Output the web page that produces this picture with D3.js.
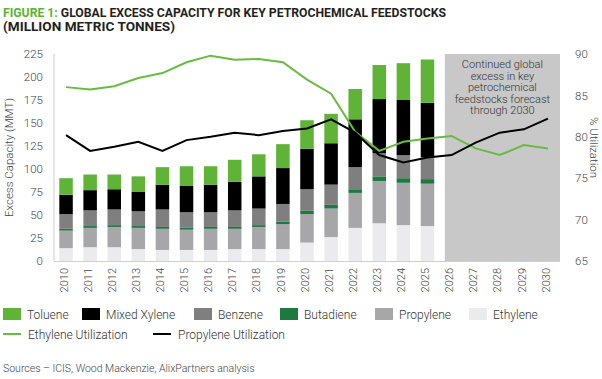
<!DOCTYPE html>
<html><head><meta charset="utf-8">
<script src="https://cdn.jsdelivr.net/npm/d3@7"></script>
<style>
body{margin:0;background:#fff;}
text{font-family:Roboto,"Noto Sans",sans-serif;}
</style></head>
<body><svg id="c" width="602" height="379"></svg>
<script>
const years = d3.range(2010, 2031).map(String);
const barYears = d3.range(2010, 2026).map(String);
const ethylene  = [14,15,15,13,12,12,12,13,13,13,20,26,36,41,39,38];
const propylene = [19,21,22,23,23,22,23,22,24,27,31,31,38,46,46,46];
const butadiene = [2,2,2,2,2,2,2,2,2,3,4,4,4,5,5,5];
const benzene   = [16,17,17,16,19,17,16,18,18,19,23,22,24,25,25,24];
const xylene    = [21,22,22,21,27,29,30,31,35,39,44,45,52,59,60,59];
const toluene   = [18,17,16,17,19,21,20,24,24,26,31,32,33,37,40,47];
const ethUtil = [86.0,85.7,86.1,87.1,87.7,89.0,89.8,89.3,89.4,89.0,86.9,85.2,80.6,78.3,79.4,79.8,80.1,78.6,77.8,79.0,78.6];
const propUtil = [80.2,78.3,78.8,79.4,78.3,79.6,80.0,80.5,80.2,80.7,81.0,82.1,80.5,77.8,76.9,77.5,77.8,79.3,80.5,80.9,82.2];
const leftTicks = [0,25,50,75,100,125,150,175,200,225];
const rightTicks = [65,70,75,80,85,90];
const seriesNames = ["Ethylene","Propylene","Butadiene","Benzene","Mixed Xylene","Toluene"];
const colors = {"Toluene":"#5fb336","Mixed Xylene":"#000000","Benzene":"#7f7f7f","Butadiene":"#1d7a3e","Propylene":"#a7a7aa","Ethylene":"#ebebed"};
const legendOrder = ["Toluene","Mixed Xylene","Benzene","Butadiene","Propylene","Ethylene"];
const noteLines = ["Continued global","excess in key","petrochemical","feedstocks forecast","through 2030"];

const table = barYears.map((y,i)=>({year:y,"Ethylene":ethylene[i],"Propylene":propylene[i],"Butadiene":butadiene[i],"Benzene":benzene[i],"Mixed Xylene":xylene[i],"Toluene":toluene[i]}));

const svg = d3.select("#c");
const L=54,R=560,T=54,B=261;
const x = d3.scaleBand().domain(years).range([L,R]).paddingInner(0.44).paddingOuter(0.22);
const yL = d3.scaleLinear().domain([0,225]).range([B,T]);
const yR = d3.scaleLinear().domain([65,90]).range([B,T]);
const cx = d=>x(d)+x.bandwidth()/2;

// title
const title = svg.append("text").attr("x",3).attr("y",17).attr("font-size",13).attr("font-weight",700).attr("fill","#231f20");
title.append("tspan").attr("fill","#5cb431").text("FIGURE 1: ");
title.append("tspan").text("GLOBAL EXCESS CAPACITY FOR KEY PETROCHEMICAL FEEDSTOCKS");
const title2 = svg.append("text").attr("x",3).attr("y",31).attr("font-size",13).attr("font-weight",700).attr("fill","#231f20").text("(MILLION METRIC TONNES)");
title.attr("textLength",443).attr("lengthAdjust","spacingAndGlyphs");
title2.attr("textLength",172).attr("lengthAdjust","spacingAndGlyphs");

// forecast band
svg.append("rect").attr("x",x("2026")).attr("y",T).attr("width",R-x("2026")).attr("height",B-T).attr("fill","#c8c8c8");
svg.append("g").selectAll("text").data(noteLines).join("text")
  .attr("x",(x("2026")+R)/2).attr("y",(d,i)=>68+i*11.5).attr("text-anchor","middle")
  .attr("font-size",11).attr("fill","#333").attr("font-weight",300).text(d=>d);

// axes lines
svg.append("line").attr("x1",L).attr("x2",L).attr("y1",T).attr("y2",B).attr("stroke","#cfcfcf");
svg.append("line").attr("x1",L).attr("x2",R).attr("y1",B+0.5).attr("y2",B+0.5).attr("stroke","#cfcfcf");

// bars
const stack = d3.stack().keys(seriesNames)(table);
svg.append("g").selectAll("g").data(stack).join("g").attr("fill",d=>colors[d.key])
  .selectAll("rect").data(d=>d).join("rect")
  .attr("x",d=>x(d.data.year)).attr("width",x.bandwidth())
  .attr("y",d=>yL(d[1])).attr("height",d=>yL(d[0])-yL(d[1]));

// lines
const line = d3.line().x((d,i)=>cx(years[i])).y(d=>yR(d));
svg.append("path").datum(ethUtil).attr("d",line).attr("fill","none").attr("stroke","#68bc3f").attr("stroke-width",2);
svg.append("path").datum(propUtil).attr("d",line).attr("fill","none").attr("stroke","#000").attr("stroke-width",2);

// left axis
const axL = svg.append("g").attr("transform",`translate(${L},0)`).call(d3.axisLeft(yL).tickValues(leftTicks).tickSize(0).tickPadding(11));
axL.select(".domain").remove();
axL.selectAll("text").attr("font-size",11.5).attr("fill","#444").attr("font-weight",300).attr("font-family","Roboto");
const axR = svg.append("g").attr("transform",`translate(${R},0)`).call(d3.axisRight(yR).tickValues(rightTicks).tickSize(0).tickPadding(15));
axR.select(".domain").remove();
axR.selectAll("text").attr("font-size",11.5).attr("fill","#444").attr("font-weight",300).attr("font-family","Roboto");
// x axis
const axX = svg.append("g").attr("transform",`translate(0,${B})`).call(d3.axisBottom(x).tickSize(0));
axX.select(".domain").remove();
axX.selectAll("text").attr("font-size",11).attr("fill","#444").attr("font-weight",300).attr("font-family","Roboto")
  .attr("text-anchor","end").attr("transform","rotate(-90)").attr("x",-7).attr("y",0).attr("dy","0.15em");

// axis titles
svg.append("text").attr("transform",`translate(13,${(T+B)/2}) rotate(-90)`).attr("text-anchor","middle")
  .attr("font-size",11.5).attr("fill","#444").attr("font-weight",300).text("Excess Capacity (MMT)");
svg.append("text").attr("transform",`translate(590,${(T+B)/2-10}) rotate(90)`).attr("text-anchor","middle")
  .attr("font-size",11.5).attr("fill","#444").attr("font-weight",300).text("% Utilization");

// legend
const lg1x = [3,82,194,280,375,469];
const lg = svg.append("g").selectAll("g").data(legendOrder).join("g").attr("transform",(d,i)=>`translate(${lg1x[i]},308)`);
lg.append("rect").attr("width",18).attr("height",12).attr("fill",d=>colors[d]);
lg.append("text").attr("x",24).attr("y",10.5).attr("font-size",12).attr("fill","#333").attr("font-weight",300).text(d=>d);
const lines2 = [{n:"Ethylene Utilization",c:"#68bc3f",x:3},{n:"Propylene Utilization",c:"#000",x:153}];
const lg2 = svg.append("g").selectAll("g").data(lines2).join("g").attr("transform",d=>`translate(${d.x},334)`);
lg2.append("line").attr("x1",0).attr("x2",18).attr("stroke",d=>d.c).attr("stroke-width",2);
lg2.append("text").attr("x",25).attr("y",4.5).attr("font-size",12).attr("fill","#333").attr("font-weight",300).text(d=>d.n);

svg.append("text").attr("x",3).attr("y",372).attr("font-size",10.5).attr("fill","#444").attr("font-weight",300)
  .text("Sources – ICIS, Wood Mackenzie, AlixPartners analysis");
</script></body></html>
